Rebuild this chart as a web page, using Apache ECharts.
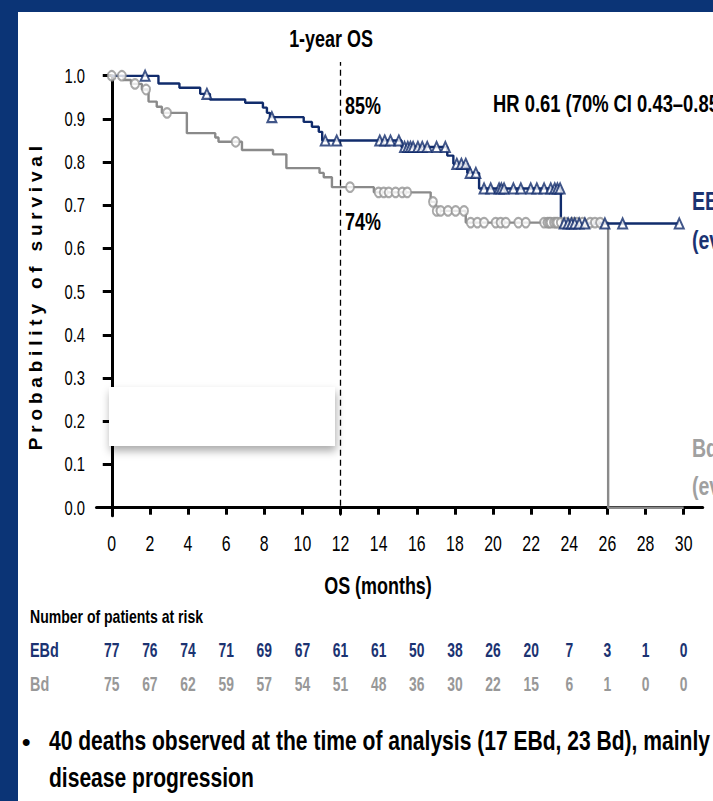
<!DOCTYPE html>
<html>
<head>
<meta charset="utf-8">
<script src="https://cdn.jsdelivr.net/npm/echarts@6/dist/echarts.min.js"></script>
<style>
  html, body { margin: 0; padding: 0; background: #fff; }
  #chart { width: 713px; height: 801px; }
</style>
</head>
<body>
<div id="chart"></div>
<script>
// ---- Kaplan–Meier steps: time (months) of each drop and survival after it ----
const ebdTimes = [0, 2.45, 3.55, 4.64, 5.15, 7.0, 7.93, 8.14, 8.3, 10.07, 10.5, 10.86, 11.04, 15.2, 17.6, 17.92, 18.65, 19.27, 23.56, 29.77];
const ebdSurv  = [1.0, 0.982, 0.972, 0.958, 0.945, 0.9375, 0.926, 0.914, 0.904, 0.893, 0.882, 0.870, 0.85, 0.835, 0.815, 0.796, 0.775, 0.739, 0.658, 0.658];

const bdTimes = [0, 0.61, 1.01, 1.58, 1.93, 2.36, 2.63, 3.94, 5.43, 5.6, 6.83, 8.46, 9.16, 10.9, 11.12, 11.55, 13.75, 16.73, 17.0, 18.57, 26.04, 30.0];
const bdSurv  = [1.0, 0.99, 0.981, 0.968, 0.94, 0.928, 0.914, 0.867, 0.857, 0.847, 0.828, 0.818, 0.786, 0.775, 0.765, 0.742, 0.730, 0.708, 0.687, 0.660, 0.0, 0.0];

// ---- censored observations (months) ----
const ebdCensor = [1.75, 4.99, 8.4, 11.2, 11.8, 14.06, 14.32, 14.62, 15.06, 15.36, 15.53, 15.67, 15.81, 16.06, 16.29, 16.55,
  17.04, 17.5, 18.1, 18.34, 18.57, 18.8, 19.1, 19.53, 19.88, 20.32, 20.44, 20.58, 21.07, 21.46, 21.98, 22.3, 22.68,
  23.03, 23.24, 23.38, 23.52, 23.73, 23.94, 24.12, 24.29, 24.52, 24.82, 25.87, 26.8, 29.77];
const bdCensor = [0, 0.53, 1.22, 1.8, 2.9, 6.5, 12.5, 14.0, 14.27, 14.53, 14.89, 15.24, 15.5, 16.85, 17.05, 17.25, 17.64,
  18.04, 18.48, 18.83, 19.18, 19.53, 20.14, 20.4, 20.67, 21.33, 21.72, 22.68, 22.86, 22.95, 23.03, 23.2, 23.3, 23.38,
  23.56, 23.82, 24.17, 24.4, 24.7, 25.1, 25.35, 25.62];

// ---- axes ----
const xTicks = [0, 2, 4, 6, 8, 10, 12, 14, 16, 18, 20, 22, 24, 26, 28, 30];
const yTicks = [0, 0.1, 0.2, 0.3, 0.4, 0.5, 0.6, 0.7, 0.8, 0.9, 1.0];
const landmarkMonth = 12;

// ---- number at risk ----
const riskTimes = [0, 2, 4, 6, 8, 10, 12, 14, 16, 18, 20, 22, 24, 26, 28, 30];
const riskEbd = [77, 76, 74, 71, 69, 67, 61, 61, 50, 38, 26, 20, 7, 3, 1, 0];
const riskBd  = [75, 67, 62, 59, 57, 54, 51, 48, 36, 30, 22, 15, 6, 1, 0, 0];

const NAVY = '#112c6c';
const NAVY_TXT = '#1b3372';
const GREY = '#8a8a8a';
const GREY_TXT = '#989898';
const FRAME = '#0b3476';
const FONT = '"Liberation Sans", Arial, sans-serif';
const yTitle = 'Probability of survival';

function survAt(times, surv, t) {
  let s = surv[0];
  for (let i = 0; i < times.length; i++) if (times[i] <= t) s = surv[i];
  return s;
}
const stepData = (times, surv) => times.map((t, i) => [t, surv[i]]);
const censorData = (list, times, surv) => list.map(t => [t, survAt(times, surv, t)]);
const pct = v => Math.round(v * 100) + '%';

// condensed text: Arial-metric face squeezed horizontally about its anchor
function label(x, y, text, size, color, opt) {
  opt = opt || {};
  return {
    type: 'text', x: x, y: y, scaleX: opt.sx || 0.78, silent: true, z: opt.z || 10,
    style: {
      text: text, fill: color,
      font: (opt.regular ? '' : 'bold ') + size + 'px ' + FONT,
      textAlign: opt.align || 'left', textVerticalAlign: 'middle'
    }
  };
}

const chart = echarts.init(document.getElementById('chart'), null, { renderer: 'svg' });

chart.setOption({
  animation: false,
  backgroundColor: '#fff',
  grid: { left: 96.5, right: 10.3, top: 75.7, bottom: 285.3 },
  xAxis: {
    type: 'value', min: -0.8, max: 31,
    axisLine: { show: true, lineStyle: { color: '#000', width: 3 } },
    axisTick: { show: true, customValues: xTicks, length: 7, lineStyle: { color: '#000', width: 3 } },
    axisLabel: { show: false },
    splitLine: { show: false }
  },
  yAxis: {
    type: 'value', min: -0.0185, max: 1.0,
    name: yTitle, nameLocation: 'middle', nameRotate: 90, nameGap: 52,
    nameTextStyle: { fontFamily: FONT, fontWeight: 'bold', fontSize: 19, color: '#000' },
    axisLine: { show: true, lineStyle: { color: '#000', width: 3 } },
    axisTick: { show: true, customValues: yTicks, length: 9, lineStyle: { color: '#000', width: 3 } },
    axisLabel: { show: false },
    splitLine: { show: false }
  },
  series: [
    {
      name: 'Bd', type: 'line', step: 'end', data: stepData(bdTimes, bdSurv),
      showSymbol: false, symbol: 'none', lineStyle: { color: GREY, width: 2.4 }, z: 2
    },
    {
      name: 'EBd', type: 'line', step: 'end', data: stepData(ebdTimes, ebdSurv),
      showSymbol: false, symbol: 'none', lineStyle: { color: NAVY, width: 2.4 }, z: 3
    },
    {
      name: 'Bd censored', type: 'scatter', data: censorData(bdCensor, bdTimes, bdSurv),
      symbol: 'circle', symbolSize: [8, 9.5],
      itemStyle: { color: '#fff', borderColor: '#949494', borderWidth: 2 }, z: 4
    },
    {
      name: 'EBd censored', type: 'scatter', data: censorData(ebdCensor, ebdTimes, ebdSurv),
      symbol: 'triangle', symbolSize: [9, 10],
      itemStyle: { color: '#fff', borderColor: NAVY, borderWidth: 2 }, z: 5
    },
    {
      name: '1-year landmark', type: 'line', clip: false, symbol: 'none',
      data: [[landmarkMonth, -0.0185], [landmarkMonth, 1.032]],
      lineStyle: { color: '#000', width: 1.3, type: [6, 4] }, z: 1
    }
  ]
});

// ---- texts: tick labels and the at-risk table are placed through the axis scales ----
const px = t => chart.convertToPixel({ xAxisIndex: 0 }, t);
const py = v => chart.convertToPixel({ yAxisIndex: 0 }, v);

const graphics = [
  // slide frame
  { type: 'rect', shape: { x: 0, y: 0, width: 713, height: 12 }, style: { fill: FRAME }, z: 100, silent: true },
  { type: 'rect', shape: { x: 0, y: 0, width: 18, height: 801 }, style: { fill: FRAME }, z: 100, silent: true },
  // blank panel with drop shadow
  { type: 'rect', shape: { x: 109, y: 387, width: 226, height: 59 }, silent: true, z: 50,
    style: { fill: '#fff', shadowBlur: 8, shadowOffsetX: 1, shadowOffsetY: 5, shadowColor: 'rgba(0,0,0,0.33)' } },

  label(331, 39, '1-year OS', 23, '#000', { align: 'center' }),
  label(345, 106, pct(survAt(ebdTimes, ebdSurv, landmarkMonth)), 23, '#000'),
  label(345, 222, pct(survAt(bdTimes, bdSurv, landmarkMonth)), 23, '#000'),
  label(493, 104, 'HR 0.61 (70% CI 0.43\u20130.85)', 23, '#000', { sx: 0.8 }),
  label(692, 202, 'EBd', 25, NAVY_TXT),
  label(692, 241, '(events: 17)', 25, NAVY_TXT),
  label(692, 449, 'Bd', 25, '#a0a0a0'),
  label(692, 487, '(events: 23)', 25, '#a0a0a0'),
  label(378, 586, 'OS (months)', 23, '#000', { align: 'center' }),
  label(30, 616, 'Number of patients at risk', 18, '#000'),
  label(30, 650, 'EBd', 20, NAVY_TXT, { sx: 0.72 }),
  label(30, 684, 'Bd', 20, GREY_TXT, { sx: 0.72 }),
  { type: 'text', x: 22, y: 741, silent: true, style: { text: '\u2022', fill: '#000', font: 'bold 24px ' + FONT, textVerticalAlign: 'middle' } },
  label(49, 741, '40 deaths observed at the time of analysis (17 EBd, 23 Bd), mainly', 27, '#000'),
  label(49, 778, 'disease progression', 27, '#000')
];

xTicks.forEach(t => graphics.push(label(px(t), 544, String(t), 22, '#000', { align: 'center', regular: true, sx: 0.72 })));
yTicks.forEach(v => graphics.push(label(85, py(v), v.toFixed(1), 20, '#000', { align: 'right', regular: true, sx: 0.74 })));
riskTimes.forEach((t, i) => {
  graphics.push(label(px(t), 650, String(riskEbd[i]), 21, NAVY_TXT, { align: 'center', sx: 0.66 }));
  graphics.push(label(px(t), 684, String(riskBd[i]), 21, GREY_TXT, { align: 'center', sx: 0.66 }));
});

chart.setOption({ graphic: graphics });

// widen the tracking of the vertical axis title
function trackAxisTitle() {
  chart.getDom().querySelectorAll('text').forEach(el => {
    if (el.textContent === yTitle) el.setAttribute('letter-spacing', '4.8');
  });
}
trackAxisTitle();
chart.on('finished', trackAxisTitle);
</script>
</body>
</html>
